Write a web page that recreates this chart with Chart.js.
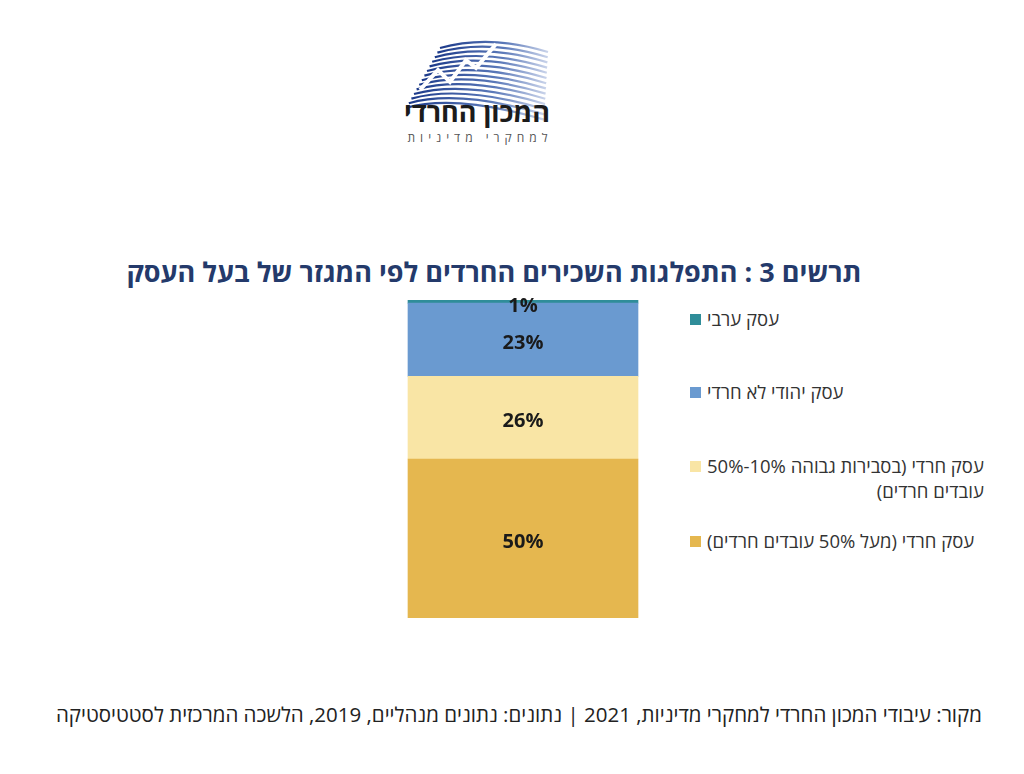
<!DOCTYPE html>
<html lang="he">
<head>
<meta charset="utf-8">
<script src="https://cdn.jsdelivr.net/npm/chart.js@4.4.1/dist/chart.umd.min.js"></script>
<style>
    body { margin: 0; width: 1024px; height: 774px; background: #fff; position: relative; overflow: hidden;
        font-family: "Open Sans", "Liberation Sans", "DejaVu Sans", sans-serif; }
    #logo { position: absolute; left: 398px; top: 28px; width: 160px; height: 120px; }
    #logoName { position: absolute; left: 377px; top: 95px; width: 200px; text-align: center; direction: rtl;
        font-size: 27px; font-weight: bold; color: #1b1b1b; line-height: 34px; }
    #logoSub { position: absolute; left: 380px; top: 128px; width: 200px; text-align: center; direction: rtl;
        font-size: 12px; color: #555; letter-spacing: 5px; line-height: 20px; }
    #title { position: absolute; left: 60px; top: 253px; width: 868px; text-align: center; direction: rtl;
        font-size: 27px; font-weight: bold; color: #243a6b; line-height: 38px; }
    #chartBox { position: absolute; left: 360px; top: 290px; width: 326px; height: 328px; }
    #legend { position: absolute; left: 690px; top: 0; width: 320px; }
    .item { position: absolute; left: 0; display: flex; align-items: flex-start; direction: ltr; }
    .box { width: 11px; height: 11px; margin-top: 8px; margin-right: 6px; flex: none; }
    .txt { direction: rtl; text-align: right; font-size: 18.5px; color: #333; line-height: 25px; }
    #source { position: absolute; left: 20px; top: 699px; width: 962px; text-align: right; direction: rtl;
        font-size: 20.5px; color: #222; line-height: 30px; }
</style>
</head>
<body>
<svg id="logo" viewBox="0 0 160 120">
    <defs>
        <linearGradient id="lg" x1="0" y1="0" x2="1" y2="0">
            <stop offset="0" stop-color="#1c3a8a"/>
            <stop offset="0.6" stop-color="#5a78b8"/>
            <stop offset="1" stop-color="#c9d3ea"/>
        </linearGradient>
    </defs>
    <g id="stripes" fill="none" stroke="url(#lg)" stroke-width="2.2"></g>
    <polyline points="22,62 40,42 52,54 68,32 78,40 98,16" fill="none" stroke="#fff" stroke-width="4"/>
</svg>
<div id="logoName">המכון החרדי</div>
<div id="logoSub">למחקרי מדיניות</div>
<div id="title">תרשים 3 : התפלגות השכירים החרדים לפי המגזר של בעל העסק</div>
<div id="chartBox"><canvas id="chart"></canvas></div>
<div id="legend"></div>
<div id="source">מקור: עיבודי המכון החרדי למחקרי מדיניות, 2021 | נתונים: נתונים מנהליים, 2019, הלשכה המרכזית לסטטיסטיקה</div>

<script>
    // data, bottom segment first
    const categories = ['']
    const seriesNames = [
        ['עסק חרדי (מעל 50% עובדים חרדים)'],
        ['עסק חרדי (בסבירות גבוהה 10%-50%', 'עובדים חרדים)'],
        ['עסק יהודי לא חרדי'],
        ['עסק ערבי'],
    ]
    const seriesValues = [50, 26, 23, 1]
    const seriesColors = ['#e5b74f', '#f9e5a5', '#6a9ad0', '#2f8d99']

    // legend item tops (page px), top to bottom = reversed series
    const legendTops = [306, 379, 453, 528]

    // logo stripes
    const stripes = document.getElementById('stripes')
    for (let i = 0; i < 14; i++) {
        const y = 12 + i * 4.6
        const x0 = 42 - i * 2.6
        const p = document.createElementNS('http://www.w3.org/2000/svg', 'path')
        p.setAttribute('d', 'M' + x0 + ',' + (y + 8) + ' Q' + (x0 + 50) + ',' + (y - 6) + ' ' + (150 - i * 0.3) + ',' + (y + 12 + i * 0.6))
        stripes.appendChild(p)
    }

    const legendEl = document.getElementById('legend')
    for (let i = seriesNames.length - 1, k = 0; i >= 0; i--, k++) {
        const item = document.createElement('div')
        item.className = 'item'
        item.style.top = legendTops[k] + 'px'
        const box = document.createElement('div')
        box.className = 'box'
        box.style.background = seriesColors[i]
        const txt = document.createElement('div')
        txt.className = 'txt'
        txt.innerHTML = seriesNames[i].join('<br>')
        item.appendChild(box)
        item.appendChild(txt)
        legendEl.appendChild(item)
    }

    const valueLabels = {
        id: 'valueLabels',
        afterDatasetsDraw(chart) {
            const ctx = chart.ctx
            ctx.save()
            ctx.font = 'bold 20px "Open Sans", "Liberation Sans", sans-serif'
            ctx.fillStyle = '#1a1a1a'
            ctx.textAlign = 'center'
            ctx.textBaseline = 'middle'
            chart.data.datasets.forEach((ds, i) => {
                chart.getDatasetMeta(i).data.forEach((bar, j) => {
                    const top = Math.min(bar.y, bar.base)
                    const h = Math.abs(bar.base - bar.y)
                    let y = top + h / 2 + 4
                    if (h < 12) y = top + 6
                    ctx.fillText(ds.data[j] + '%', bar.x, y)
                })
            })
            ctx.restore()
        }
    }

    new Chart(document.getElementById('chart'), {
        type: 'bar',
        data: {
            labels: categories,
            datasets: seriesValues.map((v, i) => ({
                label: seriesNames[i].join(' '),
                data: [v],
                backgroundColor: seriesColors[i],
                borderWidth: 0,
                barThickness: 230,
            }))
        },
        options: {
            responsive: true,
            maintainAspectRatio: false,
            animation: false,
            layout: {padding: {top: 10}},
            plugins: {legend: {display: false}, tooltip: {enabled: false}},
            scales: {
                x: {stacked: true, display: false},
                y: {stacked: true, display: false, min: 0, max: 100},
            },
        },
        plugins: [valueLabels],
    });
</script>
</body>
</html>
